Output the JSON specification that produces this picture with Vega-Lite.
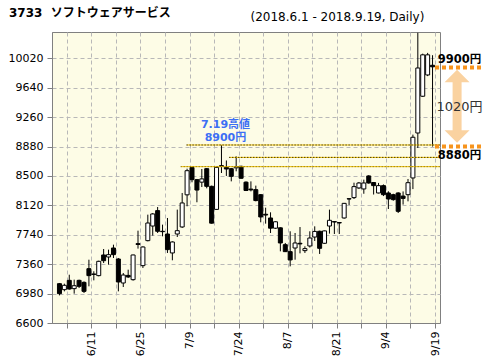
{
  "$schema": "https://vega.github.io/schema/vega-lite/v6.json",
  "width": 388,
  "height": 291,
  "autosize": "none",
  "padding": {"left": 52, "top": 32, "right": 56, "bottom": 41},
  "background": "white",
  "title": {"text": "3733\u2002\u2009ソフトウェアサービス", "anchor": "start", "frame": "group", "dx": -43, "dy": 15, "offset": -4, "fontSize": 12, "fontWeight": "bold", "font": "DejaVu Sans, Noto Sans CJK JP", "color": "black", "baseline": "alphabetic"},
  "config": {
    "view": {"fill": "#fdfce6", "stroke": "#808080"},
    "axis": {"labelFont": "DejaVu Sans", "labelFontSize": 11, "labelColor": "black", "tickColor": "#808080", "domainColor": "#808080", "tickSize": 5, "gridColor": "#b8b8b8", "gridDash": [4, 3], "gridOpacity": 1, "tickCount": 100, "labelOverlap": false}
  },
  "datasets": {
    "ohlc": [
      {"d": "6/1", "i": 0, "o": 7108, "h": 7117, "l": 6957, "c": 6979},
      {"d": "6/4", "i": 1, "o": 7031, "h": 7108, "l": 7009, "c": 7087},
      {"d": "6/5", "i": 2, "o": 7151, "h": 7224, "l": 7031, "c": 7039},
      {"d": "6/6", "i": 3, "o": 7044, "h": 7160, "l": 6979, "c": 7082},
      {"d": "6/7", "i": 4, "o": 7151, "h": 7160, "l": 7052, "c": 7074},
      {"d": "6/8", "i": 5, "o": 7125, "h": 7138, "l": 6988, "c": 7009},
      {"d": "6/11", "i": 6, "o": 7302, "h": 7418, "l": 7074, "c": 7212},
      {"d": "6/12", "i": 7, "o": 7233, "h": 7268, "l": 7151, "c": 7228},
      {"d": "6/13", "i": 8, "o": 7212, "h": 7405, "l": 7203, "c": 7397},
      {"d": "6/14", "i": 9, "o": 7479, "h": 7556, "l": 7375, "c": 7405},
      {"d": "6/15", "i": 10, "o": 7453, "h": 7548, "l": 7354, "c": 7483},
      {"d": "6/18", "i": 11, "o": 7569, "h": 7612, "l": 7440, "c": 7483},
      {"d": "6/19", "i": 12, "o": 7427, "h": 7440, "l": 7009, "c": 7130},
      {"d": "6/20", "i": 13, "o": 7117, "h": 7246, "l": 7065, "c": 7220},
      {"d": "6/21", "i": 14, "o": 7215, "h": 7289, "l": 7182, "c": 7195},
      {"d": "6/22", "i": 15, "o": 7160, "h": 7483, "l": 7147, "c": 7479},
      {"d": "6/25", "i": 16, "o": 7625, "h": 7793, "l": 7561, "c": 7615},
      {"d": "6/26", "i": 17, "o": 7341, "h": 7591, "l": 7311, "c": 7582},
      {"d": "6/27", "i": 18, "o": 7664, "h": 8000, "l": 7655, "c": 7892},
      {"d": "6/28", "i": 19, "o": 7853, "h": 8021, "l": 7729, "c": 8009},
      {"d": "6/29", "i": 20, "o": 8052, "h": 8099, "l": 7763, "c": 7785},
      {"d": "7/2", "i": 21, "o": 7785, "h": 7871, "l": 7720, "c": 7780},
      {"d": "7/3", "i": 22, "o": 7750, "h": 7957, "l": 7505, "c": 7548},
      {"d": "7/4", "i": 23, "o": 7505, "h": 7655, "l": 7410, "c": 7647},
      {"d": "7/5", "i": 24, "o": 7750, "h": 8065, "l": 7711, "c": 7793},
      {"d": "7/6", "i": 25, "o": 7841, "h": 8280, "l": 7828, "c": 8151},
      {"d": "7/9", "i": 26, "o": 8256, "h": 8594, "l": 8108, "c": 8568},
      {"d": "7/10", "i": 27, "o": 8610, "h": 8624, "l": 8418, "c": 8452},
      {"d": "7/11", "i": 28, "o": 8452, "h": 8461, "l": 8160, "c": 8318},
      {"d": "7/12", "i": 29, "o": 8420, "h": 8590, "l": 8357, "c": 8462},
      {"d": "7/13", "i": 30, "o": 8594, "h": 8603, "l": 8340, "c": 8366},
      {"d": "7/17", "i": 31, "o": 8366, "h": 8375, "l": 7884, "c": 7890},
      {"d": "7/18", "i": 32, "o": 8068, "h": 8624, "l": 8064, "c": 8611},
      {"d": "7/19", "i": 33, "o": 8633, "h": 8900, "l": 8538, "c": 8624},
      {"d": "7/20", "i": 34, "o": 8611, "h": 8700, "l": 8500, "c": 8590},
      {"d": "7/23", "i": 35, "o": 8594, "h": 8603, "l": 8430, "c": 8495},
      {"d": "7/24", "i": 36, "o": 8605, "h": 8753, "l": 8560, "c": 8620},
      {"d": "7/25", "i": 37, "o": 8624, "h": 8633, "l": 8465, "c": 8470},
      {"d": "7/26", "i": 38, "o": 8420, "h": 8430, "l": 8305, "c": 8312},
      {"d": "7/27", "i": 39, "o": 8330, "h": 8430, "l": 8301, "c": 8320},
      {"d": "7/30", "i": 40, "o": 8323, "h": 8375, "l": 8172, "c": 8182},
      {"d": "7/31", "i": 41, "o": 8258, "h": 8265, "l": 7901, "c": 7970},
      {"d": "8/1", "i": 42, "o": 8005, "h": 8090, "l": 7884, "c": 7995},
      {"d": "8/2", "i": 43, "o": 7957, "h": 8030, "l": 7763, "c": 7825},
      {"d": "8/3", "i": 44, "o": 7825, "h": 7914, "l": 7815, "c": 7908},
      {"d": "8/6", "i": 45, "o": 7830, "h": 7836, "l": 7526, "c": 7634},
      {"d": "8/7", "i": 46, "o": 7612, "h": 7634, "l": 7517, "c": 7522},
      {"d": "8/8", "i": 47, "o": 7522, "h": 7785, "l": 7332, "c": 7415},
      {"d": "8/9", "i": 48, "o": 7569, "h": 7763, "l": 7418, "c": 7634},
      {"d": "8/10", "i": 49, "o": 7630, "h": 7840, "l": 7500, "c": 7622},
      {"d": "8/13", "i": 50, "o": 7535, "h": 7591, "l": 7505, "c": 7561},
      {"d": "8/14", "i": 51, "o": 7595, "h": 7785, "l": 7575, "c": 7698},
      {"d": "8/15", "i": 52, "o": 7711, "h": 7849, "l": 7660, "c": 7783},
      {"d": "8/16", "i": 53, "o": 7785, "h": 7793, "l": 7492, "c": 7565},
      {"d": "8/17", "i": 54, "o": 7630, "h": 7793, "l": 7625, "c": 7790},
      {"d": "8/20", "i": 55, "o": 7853, "h": 8065, "l": 7755, "c": 7927},
      {"d": "8/21", "i": 56, "o": 7910, "h": 7914, "l": 7750, "c": 7905},
      {"d": "8/22", "i": 57, "o": 7898, "h": 7901, "l": 7750, "c": 7892},
      {"d": "8/23", "i": 58, "o": 7957, "h": 8151, "l": 7948, "c": 8146},
      {"d": "8/24", "i": 59, "o": 8206, "h": 8206, "l": 8125, "c": 8202},
      {"d": "8/27", "i": 60, "o": 8220, "h": 8413, "l": 8202, "c": 8362},
      {"d": "8/28", "i": 61, "o": 8345, "h": 8422, "l": 8332, "c": 8409},
      {"d": "8/29", "i": 62, "o": 8332, "h": 8452, "l": 8270, "c": 8409},
      {"d": "8/30", "i": 63, "o": 8500, "h": 8510, "l": 8400, "c": 8409},
      {"d": "8/31", "i": 64, "o": 8415, "h": 8422, "l": 8260, "c": 8375},
      {"d": "9/3", "i": 65, "o": 8280, "h": 8410, "l": 8275, "c": 8375},
      {"d": "9/4", "i": 66, "o": 8375, "h": 8390, "l": 8240, "c": 8258},
      {"d": "9/5", "i": 67, "o": 8280, "h": 8302, "l": 8073, "c": 8202},
      {"d": "9/6", "i": 68, "o": 8258, "h": 8270, "l": 8180, "c": 8194},
      {"d": "9/7", "i": 69, "o": 8280, "h": 8290, "l": 8021, "c": 8043},
      {"d": "9/10", "i": 70, "o": 8240, "h": 8300, "l": 8130, "c": 8210},
      {"d": "9/11", "i": 71, "o": 8258, "h": 8461, "l": 8172, "c": 8413},
      {"d": "9/12", "i": 72, "o": 8474, "h": 9034, "l": 8330, "c": 9000},
      {"d": "9/13", "i": 73, "o": 9055, "h": 10350, "l": 8861, "c": 9895},
      {"d": "9/14", "i": 74, "o": 9530, "h": 10080, "l": 9520, "c": 10065},
      {"d": "9/18", "i": 75, "o": 9805, "h": 10090, "l": 9790, "c": 10065},
      {"d": "9/19", "i": 76, "o": 9930, "h": 10060, "l": 8880, "c": 9910}
    ],
    "levels": [
      {"price": 8900, "from": 25.9},
      {"price": 8740, "from": 34.6},
      {"price": 8620, "from": 24.7}
    ],
    "range": [
      {"price": 9900, "label": "9900円"},
      {"price": 8880, "label": "8880円"}
    ],
    "note": [
      {"i": 33, "price": 8900, "label": "7.19高値\n8900円"}
    ]
  },
  "layer": [
    {
      "data": {"name": "ohlc"},
      "mark": {"type": "rule", "color": "black", "strokeWidth": 1},
      "encoding": {
        "x": {
          "field": "i", "type": "quantitative",
          "scale": {"domain": [-0.5, 76.5], "nice": false, "zero": false},
          "axis": {
            "values": [1.5, 6.5, 11.5, 16.5, 21.5, 26.5, 31.5, 36.5, 41.5, 46.5, 51.5, 56.5, 61.5, 66.5, 71.5, 76.5],
            "tickCount": 100,
            "labelExpr": "datum.value == 6.5 ? '6/11' : datum.value == 16.5 ? '6/25' : datum.value == 26.5 ? '7/9' : datum.value == 36.5 ? '7/24' : datum.value == 46.5 ? '8/7' : datum.value == 56.5 ? '8/21' : datum.value == 66.5 ? '9/4' : datum.value == 76.5 ? '9/19' : ''",
            "labelAngle": 270, "labelAlign": "right", "labelBaseline": "middle", "labelPadding": 3,
            "labelOverlap": false, "labelFlush": false, "labelBound": false,
            "title": null, "grid": true
          }
        },
        "y": {
          "field": "l", "type": "quantitative",
          "scale": {"domain": [6600, 10360], "nice": false, "zero": false},
          "axis": {
            "values": [6600, 6980, 7360, 7740, 8120, 8500, 8880, 9260, 9640, 10020],
            "tickCount": 100, "labelOverlap": false,
            "format": "d", "grid": true, "labelPadding": 4,
            "title": "(2018.6.1 - 2018.9.19, Daily)",
            "titleAngle": 0, "titleX": 198, "titleY": -16, "titleAlign": "left", "titleBaseline": "middle",
            "titleFont": "DejaVu Sans", "titleFontSize": 12, "titleFontWeight": "normal", "titleColor": "black"
          }
        },
        "y2": {"field": "h"}
      }
    },
    {
      "data": {"name": "ohlc"},
      "mark": {"type": "bar", "width": 4, "stroke": "black", "strokeWidth": 1},
      "encoding": {
        "x": {"field": "i", "type": "quantitative"},
        "y": {"field": "o", "type": "quantitative"},
        "y2": {"field": "c"},
        "fill": {"condition": {"test": "datum.c > datum.o", "value": "white"}, "value": "black"}
      }
    },
    {
      "data": {"name": "levels"},
      "mark": {"type": "rule", "color": "#f2c200", "strokeWidth": 1},
      "encoding": {
        "x": {"field": "from", "type": "quantitative"},
        "x2": {"value": "width"},
        "y": {"field": "price", "type": "quantitative"}
      }
    },
    {
      "data": {"name": "levels"},
      "mark": {"type": "rule", "color": "black", "strokeWidth": 1, "strokeDash": [1, 2]},
      "encoding": {
        "x": {"field": "from", "type": "quantitative"},
        "x2": {"value": "width"},
        "y": {"field": "price", "type": "quantitative"},
        "strokeOpacity": {"condition": {"test": "datum.price < 8700", "value": 0.5}, "value": 1}
      }
    },
    {
      "data": {"name": "note"},
      "mark": {"type": "text", "lineBreak": "\n", "lineHeight": 13, "align": "center", "baseline": "bottom", "dx": 4, "dy": -15, "fontSize": 11, "fontWeight": "bold", "color": "#3d6ff5", "font": "DejaVu Sans, Noto Sans CJK JP"},
      "encoding": {
        "x": {"field": "i", "type": "quantitative"},
        "y": {"field": "price", "type": "quantitative"},
        "text": {"field": "label"}
      }
    },
    {
      "data": {"values": [{}]},
      "mark": {"type": "rule", "color": "#fad2a0", "strokeWidth": 9},
      "encoding": {
        "x": {"datum": 81},
        "y": {"datum": 9790},
        "y2": {"datum": 9010}
      }
    },
    {
      "data": {"values": [{}]},
      "mark": {"type": "point", "shape": "M0,-0.5L1,0.5L-1,0.5Z", "size": 625, "filled": true, "color": "#fad2a0", "opacity": 1, "strokeWidth": 0},
      "encoding": {
        "x": {"datum": 81},
        "y": {"datum": 9790}
      }
    },
    {
      "data": {"values": [{}]},
      "mark": {"type": "point", "shape": "M0,0.5L1,-0.5L-1,-0.5Z", "size": 625, "filled": true, "color": "#fad2a0", "opacity": 1, "strokeWidth": 0},
      "encoding": {
        "x": {"datum": 81},
        "y": {"datum": 9010}
      }
    },
    {
      "data": {"name": "range"},
      "mark": {"type": "rule", "color": "#f7941d", "strokeWidth": 4, "strokeDash": [4, 3]},
      "encoding": {
        "x": {"datum": 76.5},
        "x2": {"datum": 86.3},
        "y": {"field": "price", "type": "quantitative"}
      }
    },
    {
      "data": {"name": "range"},
      "transform": [{"filter": "datum.price > 9000"}],
      "mark": {"type": "text", "align": "center", "baseline": "bottom", "dy": -3, "fontSize": 11.5, "fontWeight": "bold", "color": "black", "font": "DejaVu Sans, Noto Sans CJK JP"},
      "encoding": {
        "x": {"datum": 81.5},
        "y": {"field": "price", "type": "quantitative"},
        "text": {"field": "label"}
      }
    },
    {
      "data": {"name": "range"},
      "transform": [{"filter": "datum.price < 9000"}],
      "mark": {"type": "text", "align": "center", "baseline": "top", "dy": 3, "fontSize": 11.5, "fontWeight": "bold", "color": "black", "font": "DejaVu Sans, Noto Sans CJK JP"},
      "encoding": {
        "x": {"datum": 81.5},
        "y": {"field": "price", "type": "quantitative"},
        "text": {"field": "label"}
      }
    },
    {
      "data": {"values": [{"label": "1020円"}]},
      "mark": {"type": "text", "align": "center", "baseline": "middle", "fontSize": 13, "color": "#333333", "font": "DejaVu Sans, Noto Sans CJK JP"},
      "encoding": {
        "x": {"datum": 81.5},
        "y": {"datum": 9390},
        "text": {"field": "label"}
      }
    }
  ]
}
